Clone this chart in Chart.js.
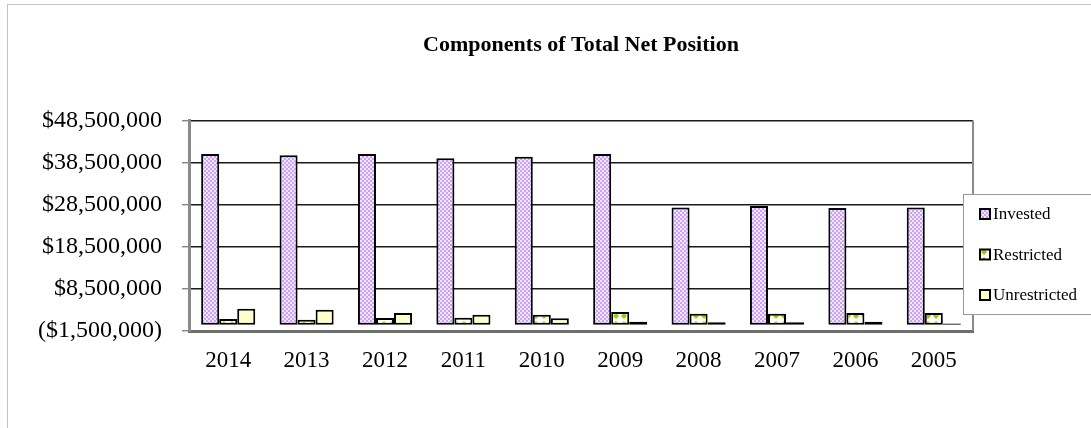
<!DOCTYPE html>
<html>
<head>
<meta charset="utf-8">
<script src="https://cdn.jsdelivr.net/npm/chart.js@4.4.1/dist/chart.umd.min.js"></script>
<style>
  html, body { margin: 0; padding: 0; background: #ffffff; }
  #wrap { width: 1091px; height: 428px; position: relative; }
</style>
</head>
<body>
<div id="wrap"><canvas id="c" width="1091" height="428"></canvas></div>
<script>
// ---- data ----
const categories = ['2014', '2013', '2012', '2011', '2010', '2009', '2008', '2007', '2006', '2005'];
const invested = [40500000, 40250000, 40500000, 39500000, 39850000, 40500000, 27800000, 28200000, 27700000, 27800000];
const restricted = [1350000, 1200000, 1600000, 1650000, 2350000, 3000000, 2600000, 2600000, 2750000, 2750000];
const unrestricted = [3800000, 3550000, 2750000, 2350000, 1500000, 700000, 600000, 600000, 700000, 300000];
const seriesNames = ['Invested', 'Restricted', 'Unrestricted'];
const yTickMin = -1500000;
const yTickMax = 48500000;
const yTickStep = 10000000;
const chartTitle = 'Components of Total Net Position';

// ---- patterns ----
function makeInvestedPattern() {
  const p = document.createElement('canvas');
  p.width = 4; p.height = 4;
  const g = p.getContext('2d');
  g.fillStyle = '#c8a2f4'; g.fillRect(0, 0, 4, 4);
  g.fillStyle = '#f1e6fd';
  g.fillRect(0, 0, 2, 2); g.fillRect(2, 2, 2, 2);
  return g.createPattern(p, 'repeat');
}
function makeRestrictedPattern() {
  const p = document.createElement('canvas');
  p.width = 8; p.height = 8;
  const g = p.getContext('2d');
  g.fillStyle = '#ffffff'; g.fillRect(0, 0, 8, 8);
  g.fillStyle = '#9acd00';
  g.beginPath(); g.moveTo(0, 1); g.lineTo(3, 4); g.lineTo(0, 7); g.closePath(); g.fill();
  g.beginPath(); g.moveTo(8, 1); g.lineTo(5, 4); g.lineTo(8, 7); g.closePath(); g.fill();
  return g.createPattern(p, 'repeat');
}
const fills = [makeInvestedPattern(), makeRestrictedPattern(), '#ffffcc'];

function money(v) {
  const s = Math.abs(v).toLocaleString('en-US');
  return v < 0 ? '($' + s + ')' : '$' + s;
}

const frame = {
  id: 'frame',
  beforeDraw(chart) {
    const ctx = chart.ctx;
    ctx.save();
    ctx.fillStyle = '#ffffff';
    ctx.fillRect(0, 0, chart.width, chart.height);
    ctx.strokeStyle = '#c4c4c4';
    ctx.lineWidth = 1;
    ctx.strokeRect(7.5, 4.5, chart.width + 20, chart.height + 20);
    ctx.restore();
  },
  beforeDatasetsDraw(chart) {
    const ctx = chart.ctx;
    const a = chart.chartArea;
    ctx.save();
    ctx.strokeStyle = '#8a8a8a';
    ctx.lineWidth = 2;
    ctx.beginPath();
    ctx.moveTo(a.right, a.top);
    ctx.lineTo(a.right, a.bottom);
    ctx.stroke();
    ctx.restore();
  }
};

const customLegend = {
  id: 'customLegend',
  afterDraw(chart) {
    const ctx = chart.ctx;
    const a = chart.chartArea;
    const left = a.right - 10, top = 194, bottom = 314;
    ctx.save();
    ctx.fillStyle = '#ffffff';
    ctx.fillRect(left, top, chart.width - left + 5, bottom - top);
    ctx.strokeStyle = '#9a9a9a';
    ctx.lineWidth = 1;
    ctx.strokeRect(left + 0.5, top + 0.5, chart.width - left + 5, bottom - top);
    ctx.font = '17px "Liberation Serif", "Times New Roman", serif';
    ctx.textBaseline = 'middle';
    ctx.textAlign = 'left';
    chart.data.datasets.forEach((ds, i) => {
      const cy = 214 + i * 40.5;
      ctx.fillStyle = ds.backgroundColor;
      ctx.fillRect(left + 17, cy - 5, 10, 10);
      ctx.strokeStyle = '#000000';
      ctx.lineWidth = 2;
      ctx.strokeRect(left + 17, cy - 5, 10, 10);
      ctx.fillStyle = '#000000';
      ctx.fillText(ds.label, left + 30, cy + 1);
    });
    ctx.restore();
  }
};

const seriesData = [invested, restricted, unrestricted];
new Chart(document.getElementById('c'), {
  type: 'bar',
  data: {
    labels: categories,
    datasets: seriesNames.map((name, i) => ({
      label: name,
      data: seriesData[i],
      backgroundColor: fills[i],
      borderColor: '#000000',
      borderWidth: 2,
      borderSkipped: false,
      categoryPercentage: 0.69,
      barPercentage: 1.0
    }))
  },
  options: {
    responsive: false,
    animation: false,
    devicePixelRatio: 1,
    layout: { padding: { left: 7, right: 118, top: 0, bottom: 0 } },
    plugins: {
      legend: { display: false },
      tooltip: { enabled: false },
      title: {
        display: true,
        text: chartTitle,
        fullSize: false,
        color: '#000000',
        font: { family: '"Liberation Serif", "Times New Roman", serif', size: 22, weight: 'bold' },
        padding: { top: 32, bottom: 62 }
      }
    },
    scales: {
      x: {
        grid: { display: false, drawTicks: false },
        border: { display: true, color: '#6e6e6e', width: 3 },
        ticks: {
          color: '#000000',
          padding: 16,
          maxRotation: 0,
          font: { family: '"Liberation Serif", "Times New Roman", serif', size: 23 }
        },
        afterFit(axis) { axis.height = 97; }
      },
      y: {
        min: yTickMin,
        max: yTickMax,
        grid: {
          color: '#1a1a1a',
          lineWidth: 1.6,
          drawTicks: true,
          tickLength: 7,
          tickColor: '#555555',
          tickWidth: 1
        },
        border: { display: true, color: '#8a8a8a', width: 3 },
        ticks: {
          stepSize: yTickStep,
          color: '#000000',
          padding: 20,
          font: { family: '"Liberation Serif", "Times New Roman", serif', size: 24 },
          callback: (v) => money(v)
        },
        afterFit(axis) { axis.width = 182; }
      }
    }
  },
  plugins: [frame, customLegend]
});
</script>
</body>
</html>
